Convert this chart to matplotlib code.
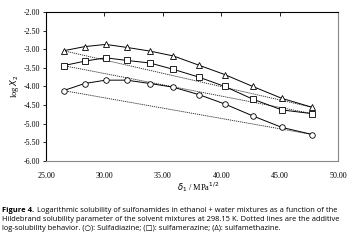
import matplotlib
matplotlib.use("Agg")
import matplotlib.pyplot as plt

# Hildebrand solubility parameter of the solvent mixtures
delta = [26.5, 28.3, 30.1, 31.9, 33.9, 35.9, 38.1, 40.3, 42.7, 45.2, 47.8]

# log X2
sulfadiazine = [-4.11, -3.92, -3.83, -3.83, -3.92, -4.02, -4.22, -4.47, -4.79, -5.10, -5.29]
sulfamerazine = [-3.44, -3.32, -3.23, -3.30, -3.37, -3.54, -3.75, -4.00, -4.34, -4.63, -4.73]
sulfamethazine = [-3.04, -2.93, -2.87, -2.95, -3.05, -3.18, -3.43, -3.68, -4.00, -4.32, -4.56]

x_ticks = [25, 30, 35, 40, 45, 50]
y_ticks = [-2.0, -2.5, -3.0, -3.5, -4.0, -4.5, -5.0, -5.5, -6.0]

cap_lines = [
    "Logarithmic solubility of sulfonamides in ethanol + water mixtures as a function of the",
    "Hildebrand solubility parameter of the solvent mixtures at 298.15 K. Dotted lines are the additive",
    "log-solubility behavior. (\u25cb): Sulfadiazine; (\u25a1): sulfamerazine; (\u0394): sulfamethazine.",
]

serif = "Liberation Serif"
sans = ["Open Sans", "DejaVu Sans"]

fig = plt.figure(figsize=(3.6, 2.45), dpi=100)
ax = fig.add_axes([0.128, 0.343, 0.811, 0.608])

series = [(sulfadiazine, "o"), (sulfamerazine, "s"), (sulfamethazine, "^")]
for ys, mk in series:
    ax.plot(delta, ys, color="black", lw=0.7, marker=mk, ms=4.0,
            mfc="white", mec="black", mew=0.6, zorder=3)
    # additive log-solubility: straight line between pure solvents
    ax.plot([delta[0], delta[-1]], [ys[0], ys[-1]], color="#222222",
            lw=0.6, ls=(0, (1.5, 1)), zorder=2)

ax.set_xlim(25, 50)
ax.set_ylim(-6, -2)
ax.set_xticks(x_ticks)
ax.set_yticks(y_ticks)
ax.set_xticklabels(["%.2f" % v for v in x_ticks], fontfamily=serif, fontsize=5.8)
ax.set_yticklabels(["%.2f" % v for v in y_ticks], fontfamily=serif, fontsize=5.8)

ax.spines["left"].set_color("black")
ax.spines["top"].set_color("black")
ax.spines["right"].set_color("#888888")
ax.spines["bottom"].set_color("#888888")
for s in ax.spines.values():
    s.set_linewidth(0.8)

ax.tick_params(axis="y", direction="out", length=2.5, width=0.6, pad=2)
ax.tick_params(axis="x", top=True, bottom=False, labeltop=False, labelbottom=True,
               direction="in", length=3, width=0.6, pad=8)

ax.set_ylabel("log $X_2$", fontfamily=serif, fontsize=6, labelpad=2)
ax.set_xlabel("$\\delta_1$ / MPa$^{1/2}$", fontfamily=serif, fontsize=6, labelpad=-3)
ax.xaxis.set_label_coords(0.52, -0.13)

# caption, first words in bold
cap_y = [0.139, 0.105, 0.069]
fs = 5.4
t0 = fig.text(0.005, cap_y[0], "Figure 4.", fontsize=fs, family=sans,
              weight="bold", va="center", ha="left")
r = fig.canvas.get_renderer()
bb = t0.get_window_extent(renderer=r)
fig.text((bb.x1 + 3) / fig.bbox.width, cap_y[0], cap_lines[0], fontsize=fs,
         family=sans, va="center", ha="left")
for y, line in zip(cap_y[1:], cap_lines[1:]):
    fig.text(0.005, y, line, fontsize=fs, family=sans, va="center", ha="left")

fig.savefig("out.png", dpi=100)
